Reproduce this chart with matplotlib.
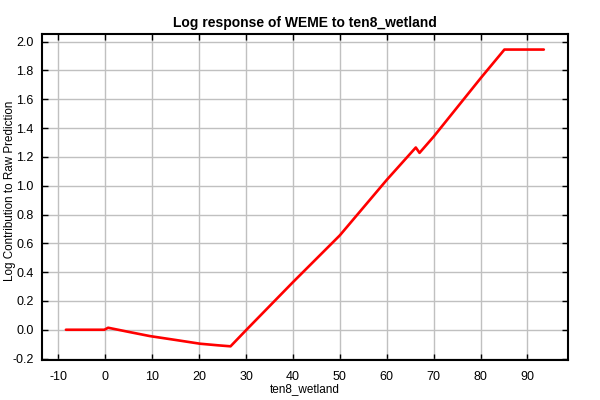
import matplotlib
matplotlib.use("Agg")
import matplotlib.pyplot as plt
import numpy as np

# values
x_vals = [-8.4, -0.2, 0.6, 5.0, 9.5, 15.0, 20.2, 24.0, 26.7, 30.1, 40.0, 50.0,
          60.0, 66.2, 67.0, 70.0, 80.0, 85.1, 93.5]
y_vals = [0.0, 0.0, 0.014, -0.015, -0.044, -0.071, -0.097, -0.108, -0.115, 0.0,
          0.33, 0.655, 1.04, 1.265, 1.228, 1.34, 1.745, 1.945, 1.945]
x_ticks = [-10, 0, 10, 20, 30, 40, 50, 60, 70, 80, 90]
y_ticks = [-0.2, 0.0, 0.2, 0.4, 0.6, 0.8, 1.0, 1.2, 1.4, 1.6, 1.8, 2.0]

plt.rcParams['font.family'] = ['Liberation Sans', 'DejaVu Sans']
plt.rcParams['axes.unicode_minus'] = False

fig = plt.figure(figsize=(6, 4), dpi=100)
ax = fig.add_axes([0.07, 0.10, 0.877, 0.815])

ax.plot(x_vals, y_vals, color='#ff0000', lw=1.9, solid_capstyle='round', zorder=3)

ax.set_xlim(-13.5, 98.7)
ax.set_ylim(-0.21, 2.053)
ax.set_xticks(x_ticks)
ax.set_xticklabels([str(v) for v in x_ticks])
ax.set_yticks(y_ticks)
ax.set_yticklabels([f"{v:.1f}" for v in y_ticks])
ax.grid(True, color='#c0c0c0', lw=1.0)
ax.set_axisbelow(True)
ax.tick_params(direction='in', length=4, width=1, labelsize=9, color='black',
               top=True, right=True)
ax.tick_params(axis='x', pad=8)
ax.tick_params(axis='y', pad=6)
for s in ax.spines.values():
    s.set_linewidth(1.5)
    s.set_color('black')

ax.set_title("Log response of WEME to ten8_wetland", fontsize=10, fontweight='bold', pad=5)
ax.set_xlabel("ten8_wetland", fontsize=8.5)
ax.set_ylabel("Log Contribution to Raw Prediction", fontsize=8.4)
ax.xaxis.set_label_coords(0.5, -0.072)
ax.yaxis.set_label_coords(-0.049, 0.52)

fig.savefig("out.png", dpi=100)
